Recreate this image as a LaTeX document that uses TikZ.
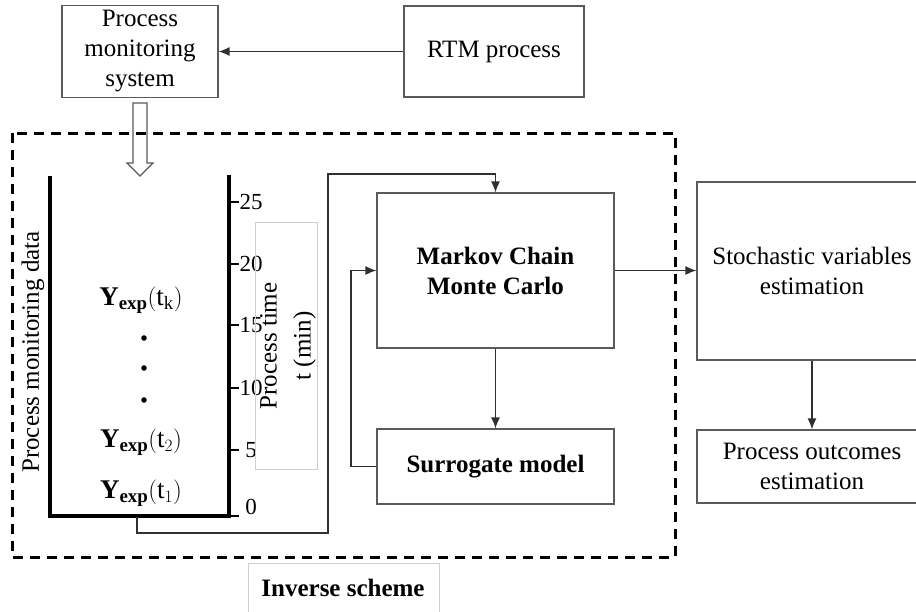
\documentclass[tikz,border=0pt]{standalone}
\usepackage{fontspec}
\setmainfont{Liberation Serif}
\usetikzlibrary{arrows.meta}
\definecolor{boxgray}{HTML}{5A5A5A}
\definecolor{linegray}{HTML}{303030}
\definecolor{lightgray}{HTML}{CFCFCF}
\begin{document}
\begin{tikzpicture}[x=1pt,y=-1pt,
  box/.style={draw=boxgray, line width=1.2pt, align=center, inner sep=0pt,
    font=\fontsize{25}{30}\selectfont},
  bbox/.style={box, font=\bfseries\fontsize{25}{30}\selectfont},
  conn/.style={line width=1.3pt, draw=linegray, -{Latex[length=11pt,width=9pt]}},
  axis/.style={line width=3.5pt, black},
  tickmark/.style={line width=1.5pt, black},
  ticklabel/.style={inner sep=0pt, font=\fontsize{23}{26}\selectfont},
  rottext/.style={inner sep=0pt, rotate=90, align=center, font=\fontsize{25}{34}\selectfont},
  ylabel/.style={inner sep=0pt, font=\fontsize{27}{30}\selectfont},
  dashbox/.style={line width=3pt, black, dash pattern=on 10pt off 7pt},
  lightbox/.style={draw=lightgray, line width=1pt}
]
\useasboundingbox (0,0) rectangle (916,611);
\fill[white] (0,0) rectangle (916,611);
\clip (0,0) rectangle (916,611);

% top boxes
\node[box, minimum width=156pt, minimum height=92pt] (pms) at (140,51.5) {Process\\monitoring\\system};
\node[box, minimum width=180pt, minimum height=91pt] (rtm) at (494,51.5) {RTM process};
\draw[conn] (rtm.west) -- (pms.east);

% hollow arrow
\draw[fill=white, draw=boxgray, line width=1.2pt, line join=miter]
  (133,103) -- (147,103) -- (147,163) -- (153,163) -- (140,176) -- (127,163) -- (133,163) -- cycle;

% dashed inverse scheme frame
\draw[dashbox] (12,133) rectangle (675,557);
\draw[lightbox] (248,620) -- (248,563) -- (439,563) -- (439,620);
\node[inner sep=0pt, font=\bfseries\fontsize{25}{30}\selectfont] (inv) at (343,588) {Inverse scheme};

% data chart
\draw[axis, line join=miter] (50,176) -- (50,516) -- (229,516);
\draw[axis] (229,175) -- (229,517.75);
\draw[tickmark] (229,516) -- (239,516);
\foreach \yy/\l in {202/25,264/20,325/15,388/10,450/5} {
  \draw[tickmark] (229,\yy) -- (239,\yy);
  \node[ticklabel] (tick\l) at (251,\yy) {\l};
}
\node[ticklabel] (tick0) at (251,507) {0};

\draw[lightbox] (255,222) rectangle (317,469);
\node[rottext] (ptime) at (288,346) {Process time\\t (min)};
\node[rottext] (pmd) at (33,352) {Process monitoring data};

\node[ylabel] (yk) at (141,300) {$\mathbf{Y}_{\mathbf{exp}}(\mathrm{t}_{\mathrm{k}})$};
\node[ylabel] (y2) at (141,442) {$\mathbf{Y}_{\mathbf{exp}}(\mathrm{t}_{2})$};
\node[ylabel] (y1) at (141,493) {$\mathbf{Y}_{\mathbf{exp}}(\mathrm{t}_{1})$};
\foreach \yy in {338,368,400} \fill (144,\yy) circle (2.8pt);

% MCMC and surrogate
\node[bbox, minimum width=237pt, minimum height=155pt] (mcmc) at (495.5,270.5) {Markov Chain\\Monte Carlo};
\node[bbox, minimum width=237pt, minimum height=75pt] (sur) at (495.5,466.5) {Surrogate model};
\coordinate (dbot) at (137,517);
\draw[conn] (dbot) -- (137,533) -- (328,533) -- (328,174) -- (mcmc.north |- 0,174) -- (mcmc.north);
\draw[conn] (mcmc.south) -- (sur.north);
\draw[conn] (sur.west) -- (351,466.5) -- (351,270.5) -- (mcmc.west);

% right boxes
\node[box, minimum width=230pt, minimum height=178pt] (stoch) at (812,271) {Stochastic variables\\estimation};
\node[box, minimum width=230pt, minimum height=73pt] (out) at (812,466.5) {Process outcomes\\estimation};
\draw[conn] (mcmc.east) -- (mcmc.east -| stoch.west);
\draw[conn] (stoch.south) -- (out.north);
\end{tikzpicture}
\end{document}
